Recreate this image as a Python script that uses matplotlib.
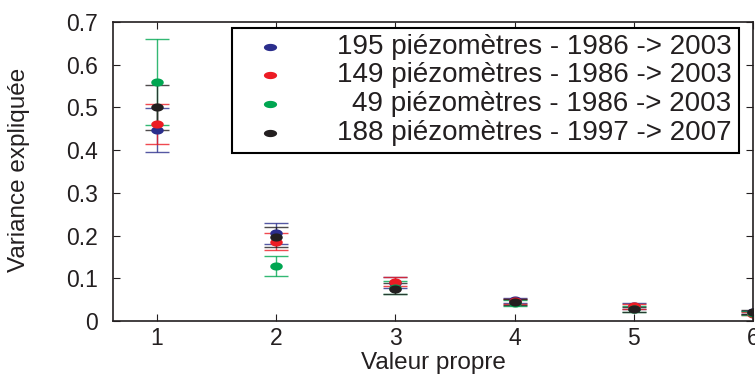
import matplotlib
matplotlib.use("Agg")
import matplotlib.pyplot as plt
from matplotlib.path import Path
from matplotlib.patches import Rectangle
import numpy as np

plt.rcParams['font.family'] = ['Liberation Sans', 'DejaVu Sans']

valeurs = [1, 2, 3, 4, 5, 6]

labels = ["195 piézomètres - 1986 -> 2003",
          "149 piézomètres - 1986 -> 2003",
          "49 piézomètres - 1986 -> 2003",
          "188 piézomètres - 1997 -> 2007"]
colors = ["#2b2e8c", "#ec1c24", "#00a651", "#231f20"]

blue = [0.447, 0.205, 0.090, 0.048, 0.035, 0.020]
blue_err = [0.052, 0.024, 0.012, 0.007, 0.006, 0.004]
red = [0.462, 0.186, 0.092, 0.046, 0.034, 0.017]
red_err = [0.047, 0.020, 0.010, 0.006, 0.005, 0.004]
green = [0.559, 0.129, 0.078, 0.042, 0.028, 0.019]
green_err = [0.101, 0.024, 0.015, 0.008, 0.007, 0.004]
black = [0.500, 0.197, 0.076, 0.044, 0.027, 0.021]
black_err = [0.053, 0.024, 0.012, 0.007, 0.006, 0.004]

series = [(blue, blue_err), (red, red_err), (green, green_err), (black, black_err)]

# ellipse marker (wider than tall)
t = np.linspace(0, 2 * np.pi, 60)
ellipse = Path(np.column_stack([np.cos(t), 0.65 * np.sin(t)]), closed=True)
ellipse_leg = Path(np.column_stack([np.cos(t), 0.55 * np.sin(t)]), closed=True)

fig = plt.figure(figsize=(7.55, 3.76), dpi=100)
ax = fig.add_axes([113 / 755, 55 / 376, 640 / 755, 299 / 376])

for (vals, errs), c in zip(series, colors):
    ax.errorbar(valeurs, vals, yerr=errs, fmt='none', ecolor=c,
                elinewidth=1.0, capsize=8.3, capthick=1.0, alpha=0.8)
for (vals, errs), c in zip(series, colors):
    ax.plot(valeurs, vals, linestyle='none', marker=ellipse, markersize=9,
            color=c, markeredgewidth=0)

ax.set_xlim(0.63, 6.0)
ax.set_ylim(0, 0.7)
ax.set_xticks(valeurs)
ax.set_yticks([0, 0.1, 0.2, 0.3, 0.4, 0.5, 0.6, 0.7])
ax.set_yticklabels(["0", "0.1", "0.2", "0.3", "0.4", "0.5", "0.6", "0.7"])
ax.tick_params(direction='in', top=True, right=True, length=5,
               labelsize=16.5, colors='#231f20')
ax.tick_params(axis='x', pad=4)
ax.tick_params(axis='y', pad=11)
for s in ax.spines.values():
    s.set_linewidth(1.2)
    s.set_color('#231f20')
ax.set_xlabel("Valeur propre", fontsize=17.5, color='#231f20')
ax.set_ylabel("Variance expliquée", fontsize=17.5, color='#231f20')
ax.xaxis.set_label_coords(0.5, -0.104)
ax.yaxis.set_label_coords(-0.13, 0.505)

# legend box drawn by hand so that the texts are right-aligned
ax.add_patch(Rectangle((0.186, 0.562), 0.792, 0.418, transform=ax.transAxes,
                       facecolor='white', edgecolor='black', linewidth=1.5,
                       zorder=5))
rows_y = [0.916, 0.823, 0.726, 0.629]
for lab, c, yy in zip(labels, colors, rows_y):
    ax.plot([0.245], [yy], transform=ax.transAxes, linestyle='none',
            marker=ellipse_leg, markersize=9.5, color=c, markeredgewidth=0,
            zorder=6, clip_on=False)
    ax.text(0.966, yy, lab, transform=ax.transAxes, ha='right', va='center',
            fontsize=20, color='#231f20', zorder=6)

fig.savefig("out.png", dpi=100)
